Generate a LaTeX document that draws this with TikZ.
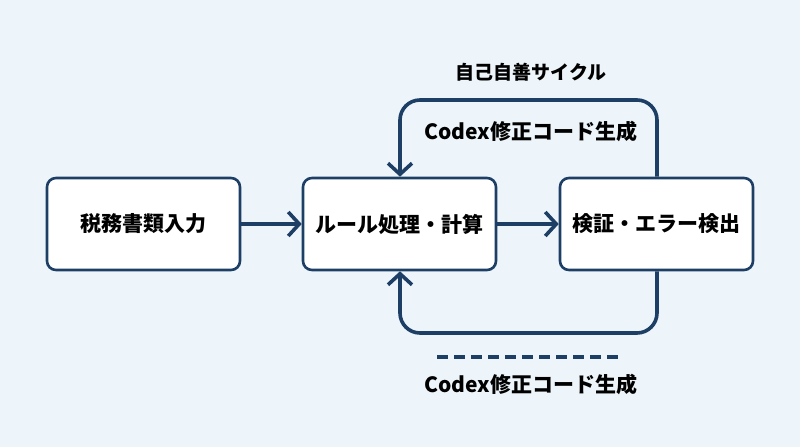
\documentclass[tikz,border=0pt]{standalone}
\usepackage{fontspec}
\setmainfont{Noto Sans CJK JP}
\usetikzlibrary{arrows.meta}
\definecolor{navy}{HTML}{1D3F66}
\definecolor{bgblue}{HTML}{EEF5FA}
\tikzset{
  box/.style={draw=navy, line width=2.6pt, fill=white, rounded corners=9pt,
    minimum width=193pt, minimum height=92pt, font=\fontsize{21}{24}\selectfont\bfseries},
  flow/.style={draw=navy, line width=3.6pt, -{Straight Barb[length=11pt,width=24pt,line width=3.6pt]}},
  loop/.style={flow, rounded corners=20pt},
  lbl/.style={font=\fontsize{21}{24}\selectfont\bfseries}
}
\begin{document}
\begin{tikzpicture}[x=1pt,y=-1pt]
\fill[bgblue] (0,0) rectangle (800,447);
\useasboundingbox (0,0) rectangle (800,447);

\node[box] (input) at (143.5,224) {税務書類入力};
\node[box] (rules) at (399.5,224) {ルール処理・計算};
\node[box] (check) at (656.5,224) {検証・エラー検出};

\draw[flow] (input) -- (rules);
\draw[flow] (rules) -- (check);

% upper loop
\coordinate (topR) at (657,100);
\coordinate (topL) at (400,100);
\draw[loop] (check.north -| topR) -- (topR) -- (topL) -- (rules.north -| topL);

% lower loop
\coordinate (botR) at (657,333);
\coordinate (botL) at (400,333);
\draw[loop] (check.south -| botR) -- (botR) -- (botL) -- (rules.south -| botL);

\node[lbl, font=\fontsize{19}{22}\selectfont\bfseries] (cycle) at (531,72) {自己自善サイクル};
\node[lbl] (upfix) at (531,131) {Codex修正コード生成};
\node[lbl] (lowfix) at (531,384) {Codex修正コード生成};

\coordinate (dashL) at (437,357);
\coordinate (dashR) at (620,357);
\draw[navy, line width=3.6pt, dash pattern=on 11pt off 6pt] (dashL) -- (dashR);
\end{tikzpicture}
\end{document}
